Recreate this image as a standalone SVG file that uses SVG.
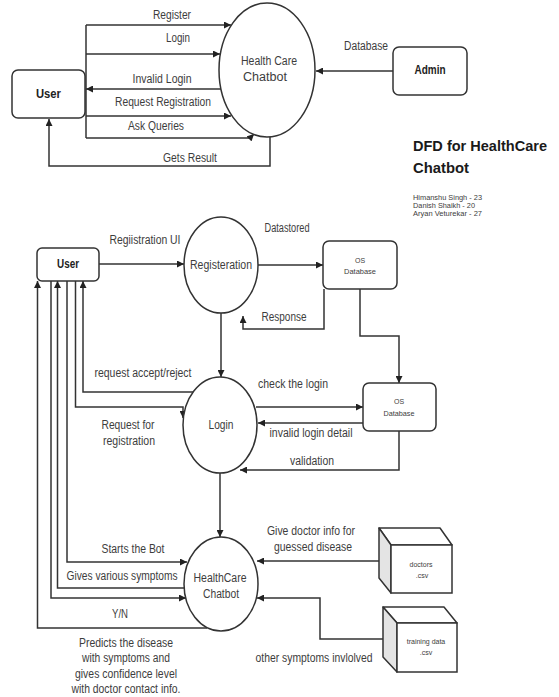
<svg xmlns="http://www.w3.org/2000/svg" width="559" height="697" viewBox="0 0 559 697">
<style>
  .ln{fill:none;stroke:#333;stroke-width:1.5}
  .arr{marker-end:url(#ah)}
  .box{fill:#fff;stroke:#333;stroke-width:1.5}
  .side{fill:#e4e4e4;stroke:#333;stroke-width:1.5;stroke-linejoin:round}
  .top{fill:#fff;stroke:#333;stroke-width:1.5;stroke-linejoin:round}
  text{font-family:"Liberation Sans",Arial,sans-serif;fill:#3d3d3d;text-anchor:middle;font-size:12px}
  .b{font-weight:bold;fill:#222}
  .s{font-size:7px}
  .title{font-weight:bold;font-size:15px;fill:#1a1a1a;text-anchor:start}
  .nm{font-size:7px;text-anchor:start}
</style>
<defs>
  <marker id="ah" viewBox="0 0 10 10" refX="10" refY="5" markerWidth="8" markerHeight="7" markerUnits="userSpaceOnUse" orient="auto">
    <path d="M0,0 L10,5 L0,10 z" fill="#222"/>
  </marker>
</defs>
<rect width="559" height="697" fill="#fff"/>

<g id="connectors">
  <!-- top context diagram -->
  <path class="ln" d="M86 25 V138"/>
  <path class="ln arr" d="M86 25 H231"/>
  <path class="ln arr" d="M86 54 H220"/>
  <path class="ln arr" d="M221 89 H86"/>
  <path class="ln arr" d="M86 116 H231"/>
  <path class="ln arr" d="M86 138 H250 L254 134"/>
  <path class="ln arr" d="M270 136 V166 H49 V119"/>
  <path class="ln arr" d="M393 71 H316"/>
  <!-- bottom DFD -->
  <path class="ln arr" d="M99 264 H184"/>
  <path class="ln arr" d="M258 265 H323"/>
  <path class="ln arr" d="M324 289 V329 H243 V316"/>
  <path class="ln arr" d="M360 289 V336 H399 V383"/>
  <path class="ln arr" d="M221 313 V377"/>
  <path class="ln arr" d="M256 407 H363"/>
  <path class="ln arr" d="M363 423 H258"/>
  <path class="ln arr" d="M399 431 V470 H240"/>
  <path class="ln arr" d="M220 473 V537"/>
  <path class="ln arr" d="M193 392 H83 V281"/>
  <path class="ln arr" d="M75.5 281 V407 H183 V418"/>
  <path class="ln arr" d="M67 281 V562 H187"/>
  <path class="ln arr" d="M184 588 H57.5 V281"/>
  <path class="ln arr" d="M51 281 V598 H186"/>
  <path class="ln arr" d="M207 628 H37.5 V281"/>
  <path class="ln arr" d="M379 561 H257"/>
  <path class="ln arr" d="M383 639 H320 V598 H257"/>
</g>

<g id="labels">
  <text x="172" y="19" textLength="38" lengthAdjust="spacingAndGlyphs">Register</text>
  <text x="178" y="42" textLength="24" lengthAdjust="spacingAndGlyphs">Login</text>
  <text x="162" y="83" textLength="59" lengthAdjust="spacingAndGlyphs">Invalid Login</text>
  <text x="163" y="106" textLength="96" lengthAdjust="spacingAndGlyphs">Request Registration</text>
  <text x="156" y="130" textLength="56" lengthAdjust="spacingAndGlyphs">Ask Queries</text>
  <text x="190" y="162" textLength="54" lengthAdjust="spacingAndGlyphs">Gets Result</text>
  <text x="366" y="50" textLength="44" lengthAdjust="spacingAndGlyphs">Database</text>

  <text x="145" y="244" textLength="71" lengthAdjust="spacingAndGlyphs">Regiistration UI</text>
  <text x="287" y="232" textLength="45" lengthAdjust="spacingAndGlyphs">Datastored</text>
  <text x="284" y="321" textLength="45" lengthAdjust="spacingAndGlyphs">Response</text>
  <text x="143" y="377" textLength="97" lengthAdjust="spacingAndGlyphs">request accept/reject</text>
  <text x="293" y="388" textLength="70" lengthAdjust="spacingAndGlyphs">check the login</text>
  <text x="128" y="429" textLength="53" lengthAdjust="spacingAndGlyphs">Request for</text>
  <text x="129" y="445" textLength="52" lengthAdjust="spacingAndGlyphs">registration</text>
  <text x="311" y="437" textLength="83" lengthAdjust="spacingAndGlyphs">invalid login detail</text>
  <text x="312" y="465" textLength="44" lengthAdjust="spacingAndGlyphs">validation</text>
  <text x="311" y="535" textLength="88" lengthAdjust="spacingAndGlyphs">Give doctor info for</text>
  <text x="313" y="551" textLength="78" lengthAdjust="spacingAndGlyphs">guessed disease</text>
  <text x="133" y="553" textLength="63" lengthAdjust="spacingAndGlyphs">Starts the Bot</text>
  <text x="122" y="580" textLength="111" lengthAdjust="spacingAndGlyphs">Gives various symptoms</text>
  <text x="120" y="618" textLength="16" lengthAdjust="spacingAndGlyphs">Y/N</text>
  <text x="314" y="662" textLength="117" lengthAdjust="spacingAndGlyphs">other symptoms invlolved</text>
  <text x="126" y="647" textLength="94" lengthAdjust="spacingAndGlyphs">Predicts the disease</text>
  <text x="126" y="662" textLength="88" lengthAdjust="spacingAndGlyphs">with symptoms and</text>
  <text x="126" y="678" textLength="102" lengthAdjust="spacingAndGlyphs">gives confidence level</text>
  <text x="126" y="693" textLength="109" lengthAdjust="spacingAndGlyphs">with doctor contact info.</text>
</g>

<g id="user-top">
  <rect class="box" x="12" y="70" width="73" height="48" rx="6"/>
  <text class="b" x="48.5" y="98" textLength="25" lengthAdjust="spacingAndGlyphs">User</text>
</g>
<g id="chatbot-top">
  <ellipse class="box" cx="267" cy="70" rx="48" ry="67"/>
  <text x="269" y="65" textLength="56" lengthAdjust="spacingAndGlyphs">Health Care</text>
  <text x="265" y="81" textLength="44" lengthAdjust="spacingAndGlyphs">Chatbot</text>
</g>
<g id="admin">
  <rect class="box" x="393" y="47" width="74" height="48" rx="6"/>
  <text class="b" x="430" y="74" textLength="31" lengthAdjust="spacingAndGlyphs">Admin</text>
</g>
<g id="title">
  <text class="title" x="413" y="151" textLength="134" lengthAdjust="spacingAndGlyphs">DFD for HealthCare</text>
  <text class="title" x="413" y="173" textLength="56" lengthAdjust="spacingAndGlyphs">Chatbot</text>
  <text class="nm" x="413" y="200" textLength="69" lengthAdjust="spacingAndGlyphs">Himanshu Singh - 23</text>
  <text class="nm" x="413" y="208" textLength="62" lengthAdjust="spacingAndGlyphs">Danish Shaikh - 20</text>
  <text class="nm" x="413" y="216" textLength="69" lengthAdjust="spacingAndGlyphs">Aryan Veturekar - 27</text>
</g>

<g id="user">
  <rect class="box" x="37" y="248" width="62" height="33" rx="5"/>
  <text class="b" x="68" y="268" textLength="22" lengthAdjust="spacingAndGlyphs">User</text>
</g>
<g id="registeration">
  <ellipse class="box" cx="221" cy="265" rx="37" ry="48"/>
  <text x="221" y="269" textLength="62" lengthAdjust="spacingAndGlyphs">Registeration</text>
</g>
<g id="os-database-1">
  <rect class="box" x="323" y="241" width="74" height="48" rx="6"/>
  <text class="s" x="360" y="263">OS</text>
  <text class="s" x="360" y="274" textLength="32" lengthAdjust="spacingAndGlyphs">Database</text>
</g>
<g id="login">
  <ellipse class="box" cx="220" cy="425" rx="37" ry="48"/>
  <text x="221" y="429" textLength="25" lengthAdjust="spacingAndGlyphs">Login</text>
</g>
<g id="os-database-2">
  <rect class="box" x="363" y="383" width="73" height="48" rx="6"/>
  <text class="s" x="399" y="404">OS</text>
  <text class="s" x="399" y="416" textLength="31" lengthAdjust="spacingAndGlyphs">Database</text>
</g>
<g id="healthcare-chatbot">
  <ellipse class="box" cx="221" cy="584" rx="37" ry="47"/>
  <text x="220" y="582" textLength="53" lengthAdjust="spacingAndGlyphs">HealthCare</text>
  <text x="221" y="598" textLength="36" lengthAdjust="spacingAndGlyphs">Chatbot</text>
</g>
<g id="doctors-csv">
  <polygon class="top" points="379,528 440,528 452,545 391,545"/>
  <polygon class="side" points="379,528 391,545 391,593 379,578"/>
  <rect class="box" x="391" y="545" width="61" height="48"/>
  <text class="s" x="421" y="567">doctors</text>
  <text class="s" x="422" y="578">.csv</text>
</g>
<g id="training-data-csv">
  <polygon class="top" points="383,607 444,607 457,623 397,623"/>
  <polygon class="side" points="383,607 397,623 397,672 383,657"/>
  <rect class="box" x="397" y="623" width="60" height="49"/>
  <text class="s" x="426" y="644">training data</text>
  <text class="s" x="426" y="655">.csv</text>
</g>
</svg>
